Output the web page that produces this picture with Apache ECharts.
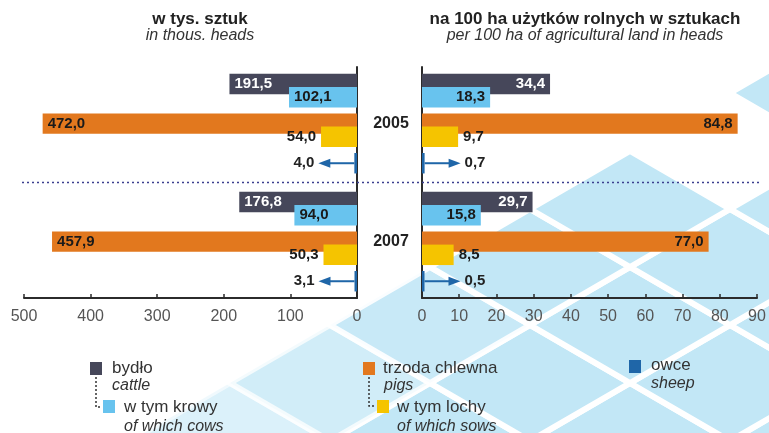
<!DOCTYPE html>
<html lang="pl">
<head>
<meta charset="UTF-8">
<title>Pogłowie zwierząt gospodarskich</title>
<style>
  html, body { margin: 0; padding: 0; background: #fff; }
  #main { width: 769px; height: 433px; }
</style>
</head>
<body>
<div id="main"></div>
<script src="https://cdn.jsdelivr.net/npm/echarts@6/dist/echarts.min.js"></script>
<script>
// dane - w tys. sztuk
var years = ['2005', '2007'];
var cattleThous = [191.5, 176.8];
var cowsThous = [102.1, 94.0];
var pigsThous = [472.0, 457.9];
var sowsThous = [54.0, 50.3];
var sheepThous = [4.0, 3.1];
// dane - na 100 ha użytków rolnych
var cattleHa = [34.4, 29.7];
var cowsHa = [18.3, 15.8];
var pigsHa = [84.8, 77.0];
var sowsHa = [9.7, 8.5];
var sheepHa = [0.7, 0.5];

// układ wierszy (jednostki osi Y)
var ROW_MAX = 17.5;
var YEAR_BASE = [1.29, 10.23];
var ROW_OFFSET = { cattle: 0, cows: 1, pigs: 3, sows: 4, sheep: 6 };
var BAR_H = 1.55;
var SEP_ROW = 8.75;

var COLORS = {
    cattle: '#46475a',
    cows: '#68c3ee',
    pigs: '#e2781e',
    sows: '#f5c400',
    sheep: '#1f66a8'
};
var FONT = '"Liberation Sans", Arial, sans-serif';
var LABEL_FONT = 'bold 15px ' + FONT;

function fmt(v) {
    return v.toFixed(1).replace('.', ',');
}

function rows(values, kind) {
    return values.map(function (v, i) {
        return [v, YEAR_BASE[i] + ROW_OFFSET[kind]];
    });
}

function barRender(color, labelColor, mode) {
    return function (params, api) {
        var v = api.value(0), row = api.value(1);
        var a = api.coord([0, row]);
        var b = api.coord([v, row]);
        var h = api.size([0, BAR_H])[1];
        var sign = b[0] >= a[0] ? 1 : -1;
        var tx, align;
        if (mode === 'inside') {
            tx = b[0] - sign * 5;
            align = sign > 0 ? 'right' : 'left';
        } else {
            tx = b[0] + sign * 5;
            align = sign > 0 ? 'left' : 'right';
        }
        return {
            type: 'group',
            children: [{
                type: 'rect',
                shape: { x: Math.min(a[0], b[0]), y: a[1] - h / 2, width: Math.abs(b[0] - a[0]), height: h },
                style: { fill: color }
            }, {
                type: 'text',
                x: tx,
                y: a[1],
                style: { text: fmt(v), fill: labelColor, font: LABEL_FONT, align: align, verticalAlign: 'middle' }
            }]
        };
    };
}

function sheepRender(color) {
    return function (params, api) {
        var v = api.value(0), row = api.value(1);
        var a = api.coord([0, row]);
        var b = api.coord([v, row]);
        var h = api.size([0, BAR_H])[1];
        var sign = b[0] >= a[0] ? 1 : -1;
        var w = Math.max(Math.abs(b[0] - a[0]), 2.5);
        var y = a[1];
        var end = a[0] + sign * w;
        var tip = end + sign * 36;
        return {
            type: 'group',
            children: [{
                type: 'rect',
                shape: { x: sign > 0 ? a[0] : a[0] - w, y: y - h / 2, width: w, height: h },
                style: { fill: color }
            }, {
                type: 'line',
                shape: { x1: end, y1: y, x2: tip - sign * 8, y2: y },
                style: { stroke: color, lineWidth: 2 }
            }, {
                type: 'polygon',
                shape: { points: [[tip, y], [tip - sign * 12, y - 4.5], [tip - sign * 12, y + 4.5]] },
                style: { fill: color }
            }, {
                type: 'text',
                x: tip + sign * 4,
                y: y,
                style: { text: fmt(v), fill: '#222', font: LABEL_FONT, align: sign > 0 ? 'left' : 'right', verticalAlign: 'middle' }
            }]
        };
    };
}

function speciesSeries(grid, kind, values, labelColor, mode) {
    return {
        type: 'custom',
        xAxisIndex: grid,
        yAxisIndex: grid,
        renderItem: kind === 'sheep' ? sheepRender(COLORS[kind]) : barRender(COLORS[kind], labelColor, mode),
        data: rows(values, kind),
        silent: true
    };
}

function axisX(grid, max, interval, inverse) {
    return {
        type: 'value',
        gridIndex: grid,
        min: 0,
        max: max,
        interval: interval,
        inverse: inverse,
        axisLine: { show: true, onZero: false, lineStyle: { color: '#2b2b2b', width: 2 } },
        axisTick: { show: true, inside: true, length: 4, lineStyle: { color: '#2b2b2b', width: 1.5 } },
        axisLabel: { color: '#555', fontSize: 16, fontFamily: FONT, margin: 11 },
        splitLine: { show: false }
    };
}

function axisY(grid, position) {
    return {
        type: 'value',
        gridIndex: grid,
        min: 0,
        max: ROW_MAX,
        inverse: true,
        position: position,
        axisLine: { show: true, lineStyle: { color: '#2b2b2b', width: 2 } },
        axisTick: { show: false },
        axisLabel: { show: false },
        splitLine: { show: false }
    };
}

// tło - siatka rombów, tylko w prawej dolnej części
var bgShapes = [];
for (var j = -1; j < 10; j++) {
    var cy = 441 - j * 58;
    var off = Math.abs(j) % 2 === 0 ? 30 : 130;
    for (var cx = off - 200; cx < 950; cx += 200) {
        var score = cx + 1.2 * cy;
        if (score < 750) continue;
        if (cy < 180 && cx < 800) continue;
        if (cy < 60) continue;
        bgShapes.push({
            type: 'polygon',
            z: -10,
            silent: true,
            shape: { points: [[cx, cy - 58], [cx + 100, cy], [cx, cy + 58], [cx - 100, cy]] },
            style: { fill: '#c2e7f6', stroke: '#fff', lineWidth: 6, opacity: Math.min(1, 0.55 + (score - 750) / 200) }
        });
    }
}

function legendBox(x, y, color) {
    return { type: 'rect', z: 10, shape: { x: x, y: y, width: 12, height: 13 }, style: { fill: color } };
}
function legendText(x, y, text, italic) {
    return {
        type: 'text', z: 10, x: x, y: y,
        style: { text: text, fill: '#333', font: (italic ? 'italic 16px ' : '17px ') + FONT, verticalAlign: 'middle' }
    };
}
function legendLink(points) {
    return { type: 'polyline', z: 10, shape: { points: points }, style: { stroke: '#333', lineWidth: 1.5, lineDash: [2, 2] } };
}

var graphics = bgShapes.concat([
    { type: 'text', x: 200, y: 19, style: { text: 'w tys. sztuk', font: 'bold 17px ' + FONT, fill: '#222', align: 'center', verticalAlign: 'middle' } },
    { type: 'text', x: 200, y: 36, style: { text: 'in thous. heads', font: 'italic 16px ' + FONT, fill: '#333', align: 'center', verticalAlign: 'middle' } },
    { type: 'text', x: 585, y: 19, style: { text: 'na 100 ha użytków rolnych w sztukach', font: 'bold 17px ' + FONT, fill: '#222', align: 'center', verticalAlign: 'middle' } },
    { type: 'text', x: 585, y: 36, style: { text: 'per 100 ha of agricultural land in heads', font: 'italic 16px ' + FONT, fill: '#333', align: 'center', verticalAlign: 'middle' } },

    legendBox(90, 362, COLORS.cattle),
    legendText(112, 368, 'bydło'),
    legendText(112, 386, 'cattle', true),
    legendLink([[96, 377], [96, 407], [102, 407]]),
    legendBox(103, 400, COLORS.cows),
    legendText(124, 407, 'w tym krowy'),
    legendText(124, 427, 'of which cows', true),

    legendBox(363, 362, COLORS.pigs),
    legendText(383, 368, 'trzoda chlewna'),
    legendText(384, 386, 'pigs', true),
    legendLink([[369, 377], [369, 406], [376, 406]]),
    legendBox(377, 400, COLORS.sows),
    legendText(397, 407, 'w tym lochy'),
    legendText(397, 427, 'of which sows', true),

    legendBox(629, 360, COLORS.sheep),
    legendText(651, 365, 'owce'),
    legendText(651, 384, 'sheep', true)
]);

var chart = echarts.init(document.getElementById('main'));
var option = {
    backgroundColor: '#fff',
    animation: false,
    grid: [
        { left: 24, right: 412, top: 67, bottom: 135, show: true, backgroundColor: '#fff', borderWidth: 0 },
        { left: 422, right: 12, top: 67, bottom: 135 }
    ],
    xAxis: [axisX(0, 500, 100, true), axisX(1, 90, 10, false)],
    yAxis: [axisY(0, 'right'), axisY(1, 'left')],
    series: [
        speciesSeries(0, 'cattle', cattleThous, '#fff', 'inside'),
        speciesSeries(0, 'cows', cowsThous, '#1a1a1a', 'inside'),
        speciesSeries(0, 'pigs', pigsThous, '#1a1a1a', 'inside'),
        speciesSeries(0, 'sows', sowsThous, '#1a1a1a', 'outside'),
        speciesSeries(0, 'sheep', sheepThous),
        speciesSeries(1, 'cattle', cattleHa, '#fff', 'inside'),
        speciesSeries(1, 'cows', cowsHa, '#1a1a1a', 'inside'),
        speciesSeries(1, 'pigs', pigsHa, '#1a1a1a', 'inside'),
        speciesSeries(1, 'sows', sowsHa, '#1a1a1a', 'outside'),
        speciesSeries(1, 'sheep', sheepHa),
        {
            // etykiety lat, między wykresami
            type: 'custom',
            xAxisIndex: 1,
            yAxisIndex: 1,
            silent: true,
            data: years.map(function (y, i) { return [0, YEAR_BASE[i] + ROW_OFFSET.pigs]; }),
            renderItem: function (params, api) {
                var p = api.coord([0, api.value(1)]);
                return {
                    type: 'text', x: p[0] - 31, y: p[1],
                    style: { text: years[params.dataIndex], font: 'bold 16px ' + FONT, fill: '#222', align: 'center', verticalAlign: 'middle' }
                };
            }
        },
        {
            // linia kropkowana oddzielająca lata
            type: 'custom',
            xAxisIndex: 0,
            yAxisIndex: 0,
            silent: true,
            data: [[500, SEP_ROW]],
            renderItem: function (params, api) {
                var p = api.coord([api.value(0), api.value(1)]);
                return {
                    type: 'line',
                    shape: { x1: p[0] - 2, y1: p[1], x2: 769 - 12 + 3, y2: p[1] },
                    style: { stroke: '#3b3f8f', lineWidth: 1.6, lineDash: [2, 3] }
                };
            }
        }
    ],
    graphic: { elements: graphics }
};
chart.setOption(option);
window.onresize = function () {
    chart.resize();
};
</script>
</body>
</html>
